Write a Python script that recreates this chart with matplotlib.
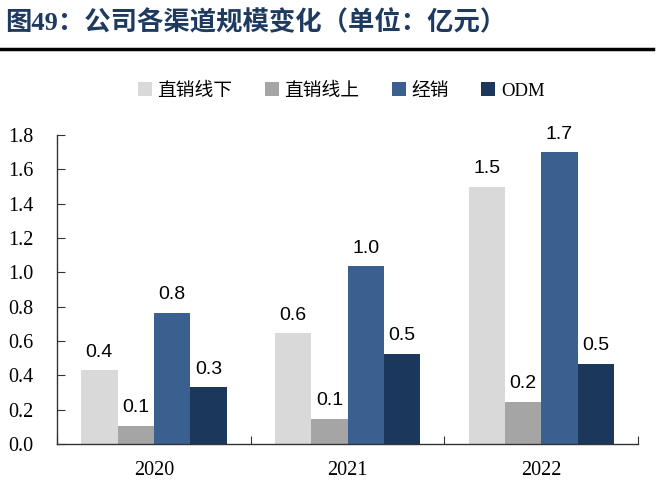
import numpy as np
import matplotlib
matplotlib.use('Agg')
import matplotlib.pyplot as plt

plt.rcParams['font.family'] = ['Liberation Serif', 'Noto Sans CJK SC', 'DejaVu Sans']

# Data (亿元)
years = ['2020', '2021', '2022']
series_names = ['直销线下', '直销线上', '经销', 'ODM']
offline = [0.43, 0.645, 1.50]
online = [0.105, 0.147, 0.245]
dealer = [0.765, 1.035, 1.70]
odm = [0.33, 0.525, 0.466]
colors = ['#D9D9D9', '#A5A5A5', '#39608F', '#1B375C']

all_series = [offline, online, dealer, odm]

fig = plt.figure(figsize=(6.65, 4.91), dpi=100)

# Title and rule line
fig.text(0.008, 0.955, '图49：公司各渠道规模变化（单位：亿元）', fontsize=19, fontweight='bold',
         color='#1F3A5F', ha='left', va='center')
fig.add_artist(plt.Line2D([0.0, 0.982], [0.9, 0.9], color='black', lw=2.5,
                          transform=fig.transFigure))

ax = fig.add_axes([0.0857, 0.0957, 0.874, 0.629])

x = np.arange(len(years))
width = 0.1875
for i, (vals, c) in enumerate(zip(all_series, colors)):
    pos = x + (i - 1.5) * width
    bars = ax.bar(pos, vals, width, color=c, label=series_names[i], zorder=2)
    for b, v in zip(bars, vals):
        ax.annotate(f'{v:.1f}', (b.get_x() + b.get_width() / 2, v),
                    xytext=(0, 7), textcoords='offset points', ha='center', va='bottom',
                    fontsize=14, family=['Liberation Sans', 'DejaVu Sans'], color='black')

ax.set_xlim(-0.5, 2.5)
ax.set_ylim(0, 1.8)
ax.set_yticks(np.arange(0, 1.81, 0.2))
ax.set_yticklabels([f'{v:.1f}' for v in np.arange(0, 1.81, 0.2)], fontsize=14.5)
ax.set_xticks([-0.5, 0.5, 1.5, 2.5])
ax.set_xticklabels([])
ax.set_xticks(x, minor=True)
ax.set_xticklabels(years, minor=True, fontsize=14.5)
ax.tick_params(axis='x', which='minor', length=0, pad=12)
ax.tick_params(axis='x', which='major', direction='in', length=6, color='#333333')
ax.tick_params(axis='y', direction='in', length=6, color='#333333', pad=17)

for s in ['top', 'right']:
    ax.spines[s].set_visible(False)
for s in ['left', 'bottom']:
    ax.spines[s].set_color('#333333')
    ax.spines[s].set_linewidth(1.0)

leg = fig.legend(loc='center', bbox_to_anchor=(0.513, 0.815), ncol=4, frameon=False,
                 fontsize=13.5, handlelength=0.75, handleheight=0.75, handletextpad=0.3,
                 columnspacing=1.73)

fig.savefig('out.png', dpi=100)
